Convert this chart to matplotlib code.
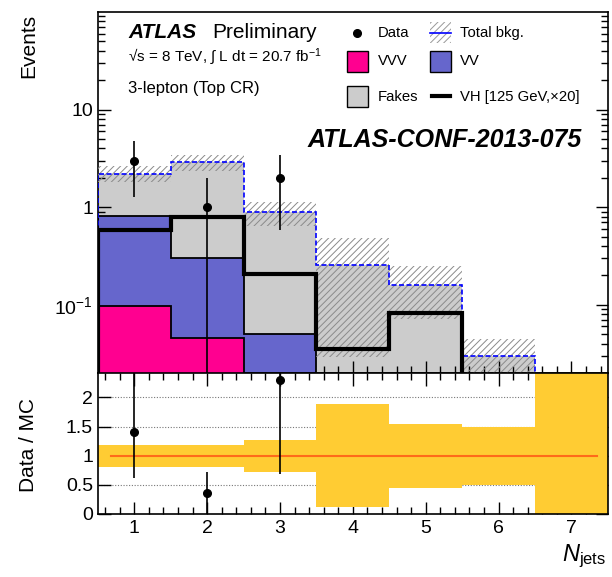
import numpy as np
import matplotlib
matplotlib.use("Agg")
import matplotlib.pyplot as plt
from matplotlib.patches import Rectangle
from matplotlib.ticker import MultipleLocator, FixedLocator, LogLocator, NullFormatter

plt.rcParams['font.family'] = ['Liberation Sans', 'DejaVu Sans']
plt.rcParams['mathtext.fontset'] = 'custom'
plt.rcParams['mathtext.rm'] = 'Liberation Sans'
plt.rcParams['mathtext.it'] = 'Liberation Sans:italic'
plt.rcParams['mathtext.bf'] = 'Liberation Sans:bold'
plt.rcParams['hatch.linewidth'] = 0.7

# number of jets (bin centres)
njets = np.array([1, 2, 3, 4, 5, 6, 7])
edges = np.arange(0.5, 8.0, 1.0)

# stacked backgrounds (events)
vvv = np.array([0.096, 0.046, 0.0, 0.0, 0.0, 0.0, 0.0])
vv = np.array([0.724, 0.254, 0.05, 0.005, 0.003, 0.001, 0.0])
fakes = np.array([1.39, 2.58, 0.85, 0.251, 0.157, 0.029, 0.0])
# VH signal x20
vh = np.array([0.59, 0.80, 0.207, 0.035, 0.083, 0.0, 0.0])
# data
data = np.array([3, 1, 2, 0, 0, 0, 0])
# relative systematic band (ratio panel)
band_hi = np.array([1.19, 1.18, 1.27, 1.88, 1.55, 1.50, 3.0])
band_lo = np.array([0.81, 0.81, 0.72, 0.115, 0.45, 0.50, 0.0])
# data / MC points
ratio_x = np.array([1, 2, 3])
ratio = np.array([1.41, 0.36, 2.30])
ratio_lo = np.array([0.61, 0.0, 0.68])
ratio_hi = np.array([2.60, 0.72, 3.92])

total = vvv + vv + fakes

fig = plt.figure(figsize=(6.12, 5.77), dpi=100)
ax1 = fig.add_axes([0.160, 0.3536, 0.8333, 0.6256])
ax2 = fig.add_axes([0.160, 0.1092, 0.8333, 0.2444], sharex=ax1)

ax1.set_yscale('log')
ax1.set_ylim(0.02, 100)
ax1.set_xlim(0.5, 7.5)

# stacked fills
c1 = vvv
c2 = vvv + vv
c3 = total
ax1.stairs(c3, edges, baseline=1e-4, fill=True, color='#cccccc', lw=0, zorder=1)
ax1.stairs(c2, edges, baseline=1e-4, fill=True, color='#6666cc', lw=0, zorder=2)
ax1.stairs(c1, edges, baseline=1e-4, fill=True, color='#ff0090', lw=0, zorder=3)
ax1.stairs(c2, edges, baseline=1e-4, color='black', lw=1.3, zorder=4)
ax1.stairs(c1, edges, baseline=1e-4, color='black', lw=1.3, zorder=4)

# systematic hatch
ax1.bar(njets, total * (band_hi - band_lo), bottom=total * band_lo, width=1.0,
        fill=False, hatch='/////', edgecolor='#8a8a8a', linewidth=0, zorder=5)
ax1.stairs(c3, edges, baseline=1e-4, color='blue', lw=1.2, ls=(0, (3, 1.5)), zorder=6)

# signal
ax1.stairs(vh, edges, baseline=1e-4, color='black', lw=3, zorder=7)

# data
m = data > 0
ax1.errorbar(njets[m], data[m], yerr=np.sqrt(data[m]), fmt='o', color='black',
             ms=5.5, lw=1.2, capsize=0, zorder=8)

ax1.yaxis.set_major_locator(FixedLocator([0.1, 1, 10]))
ax1.set_yticklabels(['10$^{-1}$', '1', '10'])
ax1.yaxis.set_minor_locator(LogLocator(base=10, subs=np.arange(2, 10)))
ax1.yaxis.set_minor_formatter(NullFormatter())
ax1.xaxis.set_major_locator(MultipleLocator(1))
ax1.xaxis.set_minor_locator(MultipleLocator(0.2))
ax1.tick_params(axis='x', labelbottom=False)
ax1.tick_params(which='both', direction='in', top=False, right=True, labelsize=14)
ax1.tick_params(which='major', length=9, width=1)
ax1.tick_params(which='minor', length=5, width=1)

# legend drawn by hand in axes fraction
tr = ax1.transAxes
bw, bh = 0.042, 0.058
ax1.plot([0.508], [0.942], 'o', color='black', ms=5.5, transform=tr, zorder=10)
ax1.text(0.549, 0.942, 'Data', transform=tr, va='center', fontsize=10.7)
ax1.add_patch(Rectangle((0.651, 0.942 - bh / 2), bw, bh, transform=tr, fill=False,
                        hatch='/////', edgecolor='#999999', lw=0, zorder=10))
ax1.plot([0.651, 0.651 + bw], [0.942, 0.942], color='blue', lw=1.2, transform=tr, zorder=11)
ax1.text(0.710, 0.942, 'Total bkg.', transform=tr, va='center', fontsize=10.7)
ax1.add_patch(Rectangle((0.488, 0.864 - bh / 2), bw, bh, transform=tr,
                        facecolor='#ff0090', edgecolor='black', lw=1, zorder=10))
ax1.text(0.549, 0.864, 'VVV', transform=tr, va='center', fontsize=10.7)
ax1.add_patch(Rectangle((0.651, 0.864 - bh / 2), bw, bh, transform=tr,
                        facecolor='#6666cc', edgecolor='black', lw=1, zorder=10))
ax1.text(0.710, 0.864, 'VV', transform=tr, va='center', fontsize=10.7)
ax1.add_patch(Rectangle((0.488, 0.765 - bh / 2), bw, bh, transform=tr,
                        facecolor='#cccccc', edgecolor='black', lw=1, zorder=10))
ax1.text(0.549, 0.765, 'Fakes', transform=tr, va='center', fontsize=10.7)
ax1.plot([0.655, 0.690], [0.767, 0.767], color='black', lw=3, transform=tr, zorder=10)
ax1.text(0.710, 0.765, 'VH [125 GeV,\u00d720]', transform=tr, va='center', fontsize=10.7)

ax1.text(0.059, 0.942, 'ATLAS', transform=tr, va='center', fontsize=15,
         fontweight='bold', fontstyle='italic')
ax1.text(0.225, 0.942, 'Preliminary', transform=tr, va='center', fontsize=15)
ax1.text(0.059, 0.876, '\u221as = 8 TeV, \u222b L dt = 20.7 fb$^{-1}$', transform=tr,
         va='center', fontsize=11)
ax1.text(0.059, 0.789, '3-lepton (Top CR)', transform=tr, va='center', fontsize=12)
ax1.text(0.949, 0.645, 'ATLAS-CONF-2013-075', transform=tr, va='center', ha='right',
         fontsize=18, fontweight='bold', fontstyle='italic')

# ratio panel
ax2.set_ylim(0, 2.42)
for g in [0.5, 1.5, 2.0]:
    ax2.axhline(g, color='#777777', lw=0.8, ls=(0, (1, 1.5)), zorder=1)
ax2.bar(njets, band_hi - band_lo, bottom=band_lo, width=1.0, color='#ffcc33',
        lw=0, zorder=2)
ax2.plot([0.68, 7.35], [1, 1], color='#ff6a1a', lw=1.5, zorder=3)
ax2.errorbar(ratio_x, ratio, yerr=[ratio - ratio_lo, ratio_hi - ratio], fmt='o',
             color='black', ms=5.5, lw=1.2, capsize=0, zorder=4)
ax2.yaxis.set_major_locator(FixedLocator([0, 0.5, 1, 1.5, 2]))
ax2.set_yticklabels(['0', '0.5', '1', '1.5', '2'])
ax2.xaxis.set_major_locator(MultipleLocator(1))
ax2.xaxis.set_minor_locator(MultipleLocator(0.2))
ax2.tick_params(which='both', direction='in', top=True, right=True, labelsize=14)
ax2.tick_params(which='major', length=9, width=1)
ax2.tick_params(which='minor', length=5, width=1)
ax2.tick_params(axis='x', pad=4)

for a in (ax1, ax2):
    for s in a.spines.values():
        s.set_linewidth(1.2)

fig.text(0.047, 0.976, 'Events', rotation=90, ha='center', va='top', fontsize=15)
fig.text(0.047, 0.229, 'Data / MC', rotation=90, ha='center', va='center', fontsize=15)
fig.text(0.990, 0.028, '$N_{\\mathrm{jets}}$', ha='right', va='baseline', fontsize=17)

fig.savefig('out.png', dpi=100)
